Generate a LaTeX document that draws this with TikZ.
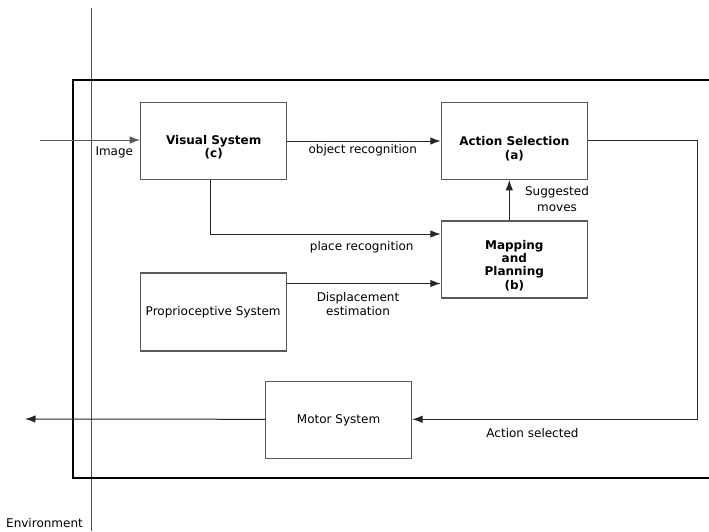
\documentclass[tikz,border=0pt]{standalone}
\usepackage{fontspec}
\setmainfont{DejaVu Sans}
\usetikzlibrary{arrows.meta}
\begin{document}
\begin{tikzpicture}[x=1pt,y=-1pt,
 box/.style={draw=black!65, line width=1.1pt, minimum width=146pt, minimum height=76.6pt, inner sep=0pt},
 arr/.style={draw=black!85, line width=1pt, -{Latex[length=10.5pt,width=7.5pt]}},
 lbl/.style={font=\fontsize{12}{16}\selectfont, align=center, inner sep=0pt},
 lbs/.style={font=\fontsize{12}{14}\selectfont, align=center, inner sep=0pt},
 bl/.style={font=\fontsize{12}{13.3}\selectfont\bfseries, align=center, inner sep=0pt}]
\useasboundingbox (0,0) rectangle (709,531);
% environment boundary and agent frame
\draw[black!70, line width=0.8pt] (91.7,8) -- (91.7,531);
\draw[black, line width=2.4pt] (72.7,80) rectangle (714,478);
% boxes
\node[box] (vis) at (213.7,141) {};
\node[box] (act) at (514.3,141) {};
\node[box, minimum height=77pt] (map) at (514.3,259.5) {};
\node[box, minimum height=78pt] (prop) at (213.2,312) {};
\node[box, minimum height=77pt] (mot) at (338.6,420.2) {};
% box texts
\node[bl] (vist) at (213.7,147.5) {Visual System\\(c)};
\node[bl] (actt) at (514.3,148.7) {Action Selection\\(a)};
\node[bl] (mapt) at (514.3,265.5) {Mapping\\and\\Planning\\(b)};
\node[lbl] (propt) at (prop.center) {Proprioceptive System};
\node[lbl] (mott) at (mot.center) {Motor System};
% connectors
\coordinate (imgin) at (40,140);
\draw[arr, draw=black!65] (imgin) -- (vis.west |- imgin);
\draw[arr] (vis.east) -- (act.west);
\coordinate (prc) at (210.7,234);
\draw[arr] (vis.south -| prc) -- (prc) -- (map.west |- prc);
\coordinate (dsp) at (0,283.5);
\draw[arr] (prop.east |- dsp) -- (map.west |- dsp);
\coordinate (sug) at (509.3,0);
\draw[arr] (map.north -| sug) -- (act.south -| sug);
\coordinate (rt) at (697.3,140);
\coordinate (rb) at (697.3,419.3);
\draw[arr] (act.east |- rt) -- (rt) -- (rb) -- (mot.east |- rb);
\coordinate (out) at (25,419);
\draw[arr] (mot.west |- rb) -- (out);
% labels
\node[lbl] (imgl) at (114.3,152) {Image};
\node[lbl] (objl) at (362.7,150.5) {object recognition};
\node[lbl] (sugl) at (557,198.7) {Suggested\\moves};
\node[lbl] (plcl) at (361.7,247) {place recognition};
\node[lbs] (dspl) at (358,304) {Displacement\\estimation};
\node[lbl] (asl) at (532.5,433.5) {Action selected};
\node[lbl] (envl) at (44.5,523) {Environment};
\end{tikzpicture}
\end{document}
